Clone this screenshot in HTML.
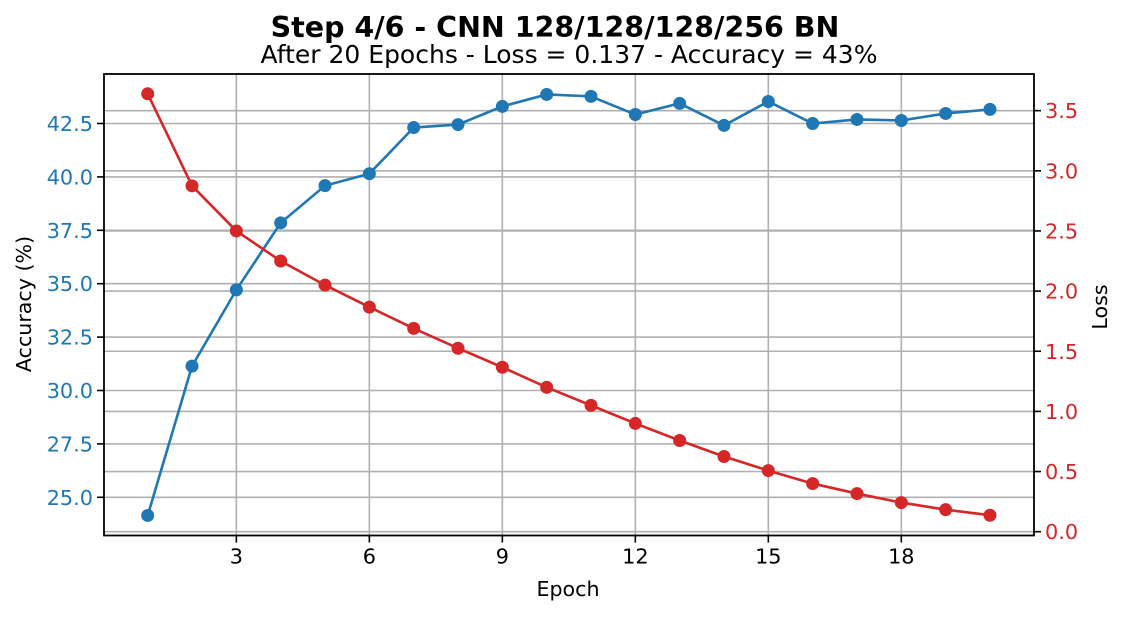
<!DOCTYPE html>
<html><head><meta charset="utf-8"><style>
body{margin:0;background:#fff}
svg text{font-family:"DejaVu Sans","Liberation Sans",sans-serif}
</style></head><body>
<svg id="c" width="1125" height="614" xmlns="http://www.w3.org/2000/svg">
<text x="555" y="37" text-anchor="middle" font-size="28.5" font-weight="bold">Step 4/6 - CNN 128/128/128/256 BN</text>
<text x="569" y="63" text-anchor="middle" font-size="25">After 20 Epochs - Loss = 0.137 - Accuracy = 43%</text>
<text x="568" y="596" text-anchor="middle" font-size="20.6">Epoch</text>
<text transform="translate(31,304) rotate(-90)" text-anchor="middle" font-size="20.6">Accuracy (%)</text>
<text transform="translate(1107,307) rotate(-90)" text-anchor="middle" font-size="20.6">Loss</text>
<g id="grid"></g><g id="marks"></g><g id="axes"></g>
</svg>
<script>
const epochs=[1,2,3,4,5,6,7,8,9,10,11,12,13,14,15,16,17,18,19,20];
const accuracy=[24.15,31.14,34.71,37.85,39.59,40.15,42.31,42.45,43.3,43.86,43.77,42.92,43.44,42.41,43.53,42.5,42.69,42.64,42.97,43.16];
const loss=[3.64,2.875,2.5,2.25,2.05,1.867,1.69,1.525,1.367,1.2,1.05,0.9,0.758,0.625,0.508,0.4,0.317,0.242,0.183,0.137];
const xTicks=[3,6,9,12,15,18];
const accTicks=[25.0,27.5,30.0,32.5,35.0,37.5,40.0,42.5];
const lossTicks=[0.0,0.5,1.0,1.5,2.0,2.5,3.0,3.5];
const L=104,R=1034,T=74,B=535.5;
const X=e=>147.7+(e-1)*44.33;
const YA=v=>123.5+(42.5-v)*21.36;
const YL=v=>531.7-v*120.3;
const NS="http://www.w3.org/2000/svg";
function mk(p,t,a){const e=document.createElementNS(NS,t);for(const k in a)e.setAttribute(k,a[k]);p.appendChild(e);return e;}
const grid=document.getElementById('grid'),marks=document.getElementById('marks'),axes=document.getElementById('axes');
xTicks.forEach(t=>{const x=X(t);
 const g=mk(grid,'line',{x1:x,x2:x,y1:T,y2:B,stroke:'#b0b0b0','stroke-width':1.6});
 
 mk(axes,'line',{x1:x,x2:x,y1:B,y2:B+7,stroke:'#000','stroke-width':1.6});
 const tx=mk(axes,'text',{x:x,y:B+28,'text-anchor':'middle','font-size':20.8});tx.textContent=t;
 });
accTicks.forEach(t=>{const y=YA(t);
 const g=mk(grid,'line',{x1:L,x2:R,y1:y,y2:y,stroke:'#b0b0b0','stroke-width':1.6});
 
 mk(axes,'line',{x1:L-7,x2:L,y1:y,y2:y,stroke:'#000','stroke-width':1.6});
 const tx=mk(axes,'text',{x:L-11,y:y+7.5,'text-anchor':'end','font-size':20.8,fill:'#1f77b4'});tx.textContent=t.toFixed(1);
 });
lossTicks.forEach(t=>{const y=YL(t);
 const g=mk(grid,'line',{x1:L,x2:R,y1:y,y2:y,stroke:'#b0b0b0','stroke-width':1.6});
 
 mk(axes,'line',{x1:R,x2:R+7,y1:y,y2:y,stroke:'#000','stroke-width':1.6});
 const tx=mk(axes,'text',{x:R+11,y:y+7.5,'text-anchor':'start','font-size':20.8,fill:'#d62728'});tx.textContent=t.toFixed(1);
 });
const fr=mk(axes,'rect',{x:L,y:T,width:R-L,height:B-T,fill:'none',stroke:'#000','stroke-width':1.8});

function series(vals,Y,col,name){
 const pl=mk(marks,'polyline',{points:vals.map((v,i)=>X(epochs[i])+','+Y(v)).join(' '),fill:'none',stroke:col,'stroke-width':2.6});
 
 vals.forEach((v,i)=>{const c=mk(marks,'circle',{cx:X(epochs[i]),cy:Y(v),r:6.5,fill:col});
  });
}
series(accuracy,YA,'#1f77b4','accuracy');
series(loss,YL,'#d62728','loss');
</script>
</body></html>
